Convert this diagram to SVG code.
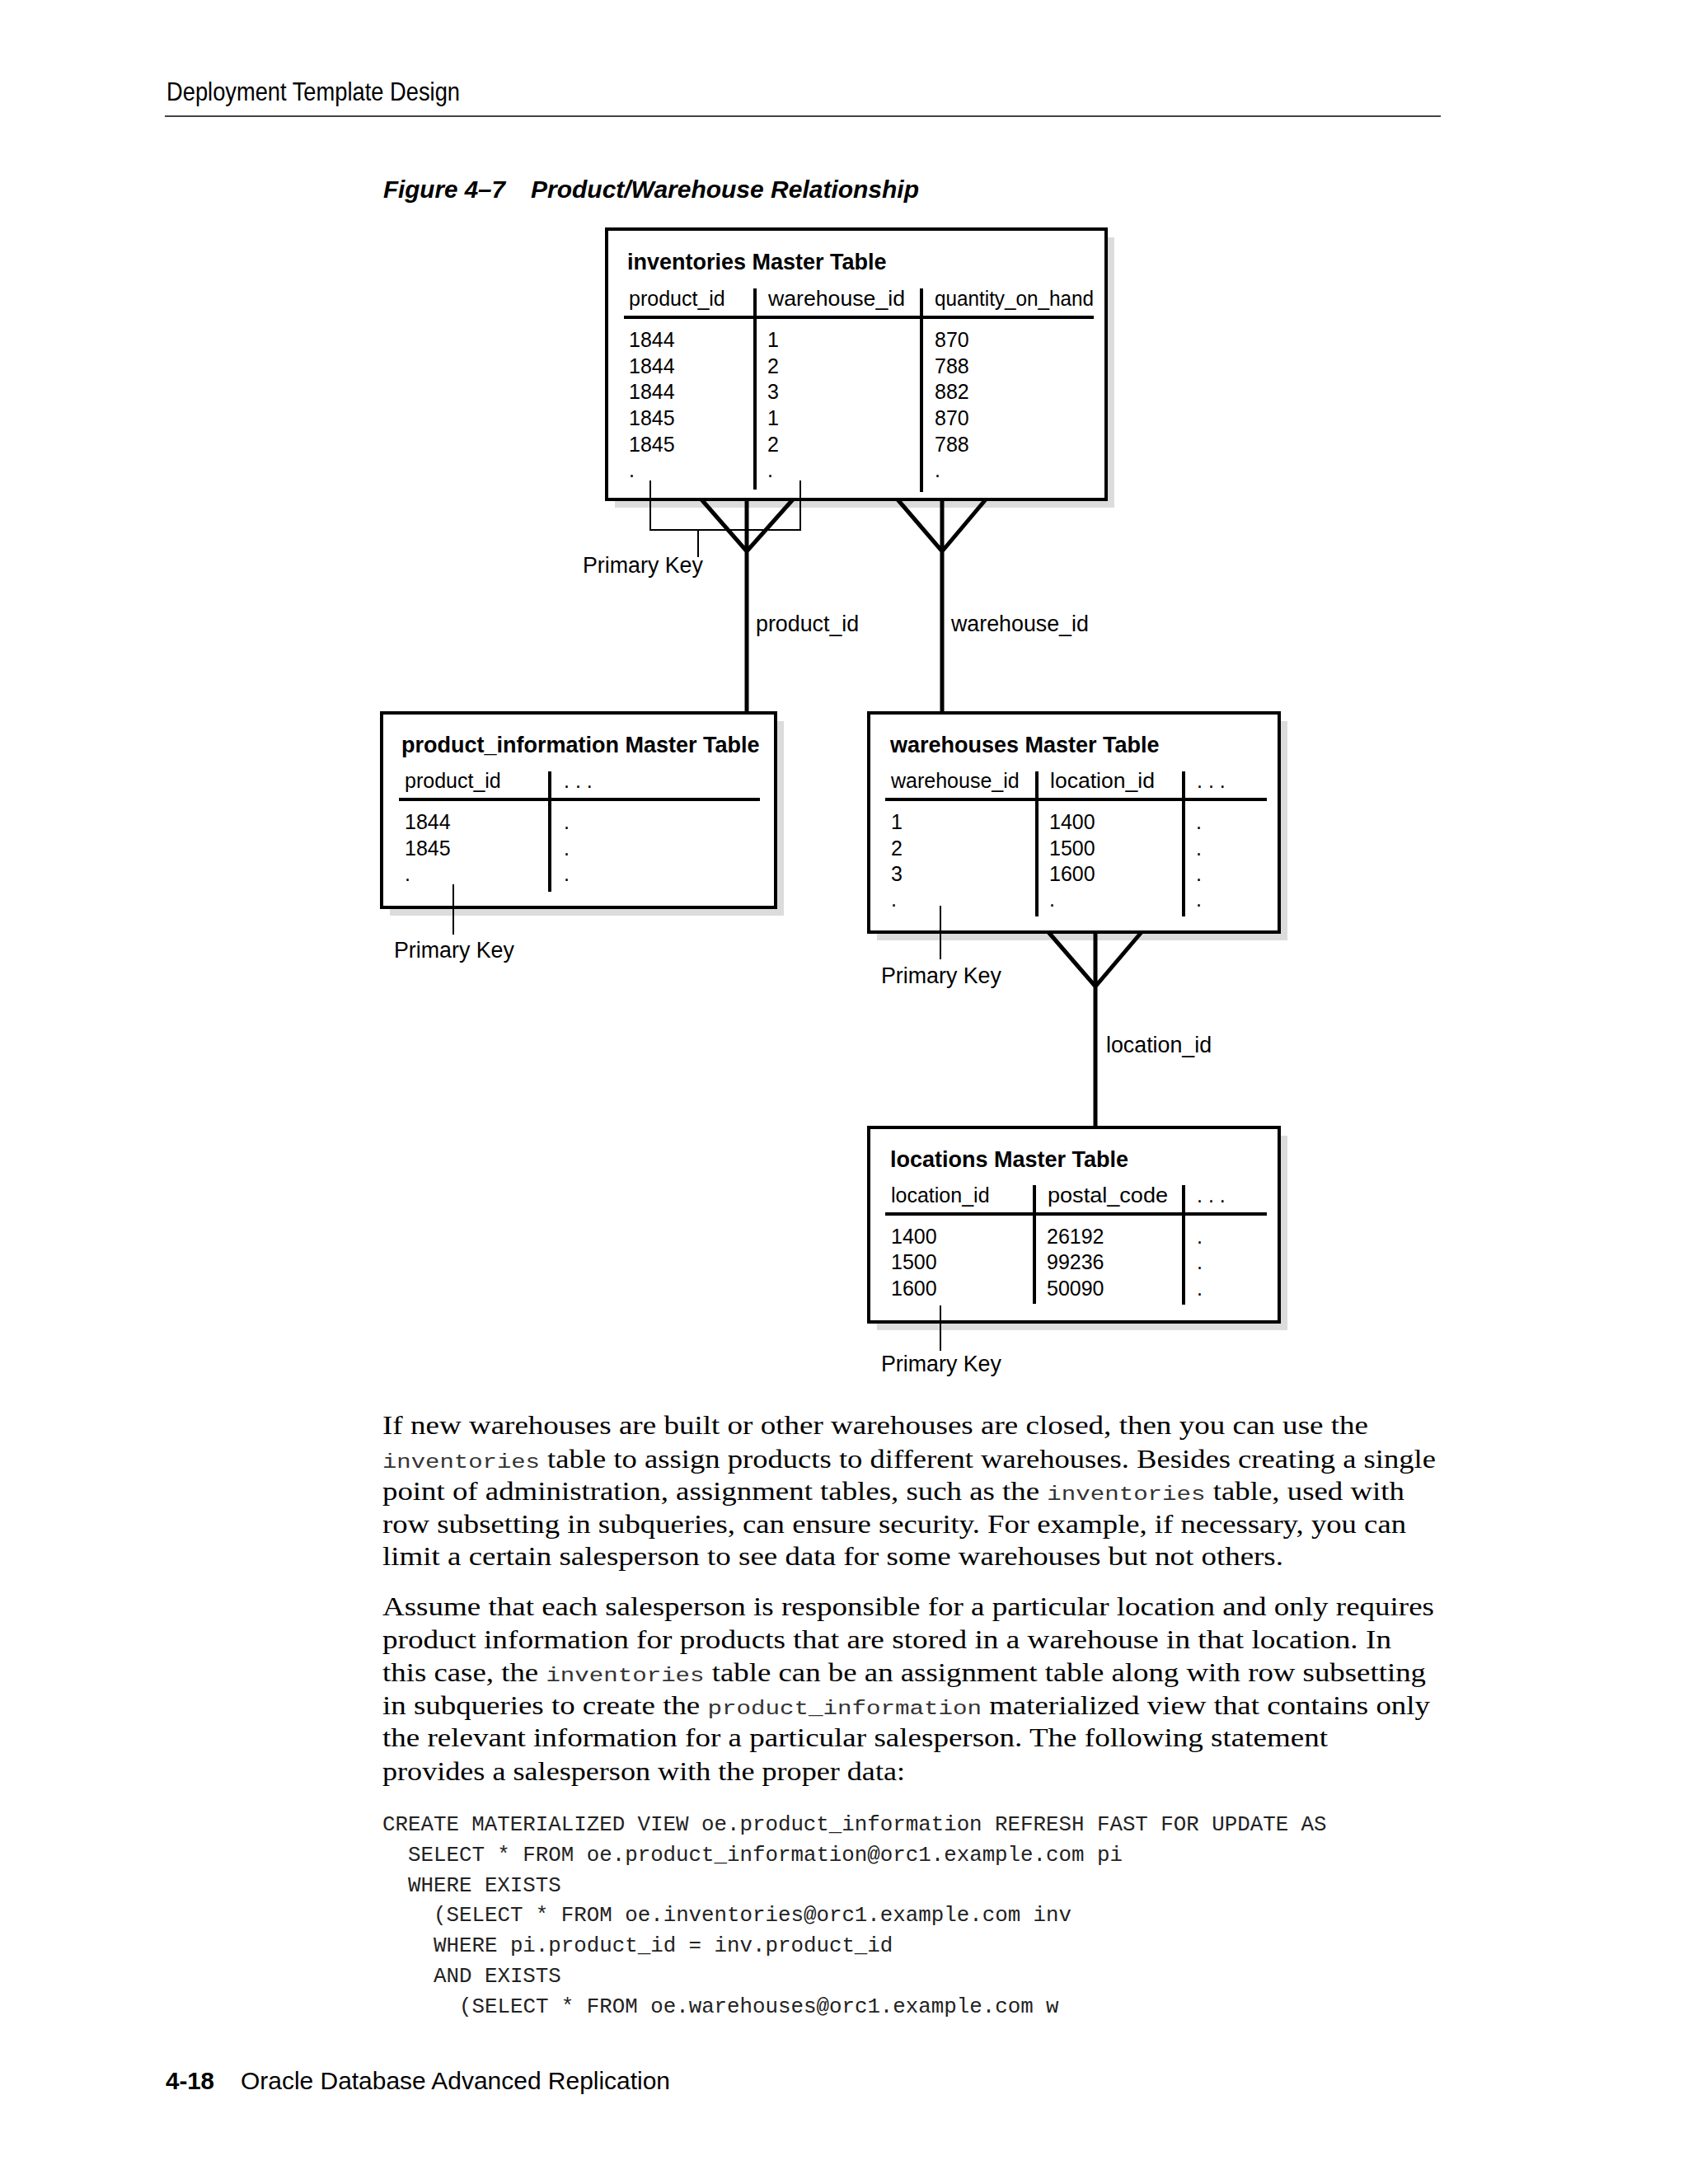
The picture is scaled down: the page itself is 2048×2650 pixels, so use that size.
<svg xmlns="http://www.w3.org/2000/svg" width="2048" height="2650" viewBox="0 0 2048 2650">
<style>
.bg{fill:#ffffff}
.box{fill:#ffffff;stroke:#000;stroke-width:4}
.shadow{fill:#dcdcdc}
.rule{stroke:#000;stroke-width:4;fill:none}
.thin{stroke:#000;stroke-width:2;fill:none}
.conn{stroke:#000;stroke-width:5;fill:none;stroke-linejoin:miter}
.title{font-family:"Liberation Sans",Arial,sans-serif;font-weight:bold;font-size:27px;fill:#000}
.cell{font-family:"Liberation Sans",Arial,sans-serif;font-size:25px;fill:#000}
.lbl{font-family:"Liberation Sans",Arial,sans-serif;font-size:26.8px;fill:#000}
.hdr{font-family:"Liberation Sans",Arial,sans-serif;font-size:32px;fill:#000}
.cap{font-family:"Liberation Sans",Arial,sans-serif;font-size:29px;font-weight:bold;font-style:italic;fill:#000}
.body{font-family:"Liberation Serif","Times New Roman",serif;font-size:31px;fill:#000}
.mono{font-family:"Liberation Mono","Courier New",monospace;font-size:24.5px;fill:#333}
.code{font-family:"Liberation Mono","Courier New",monospace;font-size:25.8px;fill:#222}
.foot{font-family:"Liberation Sans",Arial,sans-serif;font-size:30px;fill:#000}
</style>
<rect class="bg" x="0" y="0" width="2048" height="2650"/>

<g id="page-header">
<text class="hdr" x="202" y="122" textLength="356" lengthAdjust="spacingAndGlyphs">Deployment Template Design</text>
<line x1="200" y1="141" x2="1748" y2="141" stroke="#444" stroke-width="2"/>
</g>

<g id="caption">
<text class="cap" x="465" y="240" textLength="148" lengthAdjust="spacingAndGlyphs">Figure 4–7</text>
<text class="cap" x="644" y="240" textLength="471" lengthAdjust="spacingAndGlyphs">Product/Warehouse Relationship</text>
</g>

<g id="inventories">
<rect class="shadow" x="746" y="288" width="606" height="328"/>
<rect class="box" x="736" y="278" width="606" height="328"/>
<text class="title" x="761" y="327">inventories Master Table</text>
<text class="cell" x="763" y="371">product_id</text>
<text class="cell" x="932" y="371" textLength="166" lengthAdjust="spacingAndGlyphs">warehouse_id</text>
<text class="cell" x="1134" y="371" textLength="193" lengthAdjust="spacingAndGlyphs">quantity_on_hand</text>
<line class="rule" x1="757" y1="385" x2="1327" y2="385"/>
<line class="rule" x1="916" y1="350" x2="916" y2="594"/>
<line class="rule" x1="1118" y1="350" x2="1118" y2="597"/>
<g class="cell">
<text x="763" y="421">1844</text><text x="931" y="421">1</text><text x="1134" y="421">870</text>
<text x="763" y="452.5">1844</text><text x="931" y="452.5">2</text><text x="1134" y="452.5">788</text>
<text x="763" y="484">1844</text><text x="931" y="484">3</text><text x="1134" y="484">882</text>
<text x="763" y="516">1845</text><text x="931" y="516">1</text><text x="1134" y="516">870</text>
<text x="763" y="547.5">1845</text><text x="931" y="547.5">2</text><text x="1134" y="547.5">788</text>
<text x="763" y="579">.</text><text x="931" y="579">.</text><text x="1134" y="579">.</text>
</g>
<path class="thin" d="M789,583 L789,643 L971,643 L971,583 M847,643 L847,676"/>
<text class="lbl" x="707" y="695">Primary Key</text>
</g>

<g id="product_information">
<rect class="shadow" x="473" y="875" width="478" height="236"/>
<rect class="box" x="463" y="865" width="478" height="236"/>
<text class="title" x="487" y="913">product_information Master Table</text>
<text class="cell" x="491" y="956">product_id</text>
<text class="cell" x="684" y="956">. . .</text>
<line class="rule" x1="484" y1="970" x2="922" y2="970"/>
<line class="rule" x1="667" y1="936" x2="667" y2="1082"/>
<g class="cell">
<text x="491" y="1006">1844</text><text x="684" y="1006">.</text>
<text x="491" y="1038">1845</text><text x="684" y="1038">.</text>
<text x="491" y="1069">.</text><text x="684" y="1069">.</text>
</g>
<line class="thin" x1="550" y1="1073" x2="550" y2="1134"/>
<text class="lbl" x="478" y="1162">Primary Key</text>
</g>

<g id="warehouses">
<rect class="shadow" x="1064" y="875" width="498" height="266"/>
<rect class="box" x="1054" y="865" width="498" height="266"/>
<text class="title" x="1080" y="913">warehouses Master Table</text>
<text class="cell" x="1081" y="956">warehouse_id</text>
<text class="cell" x="1274" y="956" textLength="127" lengthAdjust="spacingAndGlyphs">location_id</text>
<text class="cell" x="1452" y="956">. . .</text>
<line class="rule" x1="1074" y1="970" x2="1537" y2="970"/>
<line class="rule" x1="1258" y1="936" x2="1258" y2="1112"/>
<line class="rule" x1="1436" y1="936" x2="1436" y2="1112"/>
<g class="cell">
<text x="1081" y="1006">1</text><text x="1273" y="1006">1400</text><text x="1451" y="1006">.</text>
<text x="1081" y="1038">2</text><text x="1273" y="1038">1500</text><text x="1451" y="1038">.</text>
<text x="1081" y="1069">3</text><text x="1273" y="1069">1600</text><text x="1451" y="1069">.</text>
<text x="1081" y="1100">.</text><text x="1273" y="1100">.</text><text x="1451" y="1100">.</text>
</g>
<line class="thin" x1="1141" y1="1099" x2="1141" y2="1164"/>
<text class="lbl" x="1069" y="1193">Primary Key</text>
</g>

<g id="locations">
<rect class="shadow" x="1064" y="1378" width="498" height="236"/>
<rect class="box" x="1054" y="1368" width="498" height="236"/>
<text class="title" x="1080" y="1416">locations Master Table</text>
<text class="cell" x="1081" y="1459">location_id</text>
<text class="cell" x="1271" y="1459" textLength="146" lengthAdjust="spacingAndGlyphs">postal_code</text>
<text class="cell" x="1452" y="1459">. . .</text>
<line class="rule" x1="1074" y1="1473" x2="1537" y2="1473"/>
<line class="rule" x1="1255" y1="1438" x2="1255" y2="1582"/>
<line class="rule" x1="1436" y1="1438" x2="1436" y2="1583"/>
<g class="cell">
<text x="1081" y="1509">1400</text><text x="1270" y="1509">26192</text><text x="1452" y="1509">.</text>
<text x="1081" y="1540">1500</text><text x="1270" y="1540">99236</text><text x="1452" y="1540">.</text>
<text x="1081" y="1572">1600</text><text x="1270" y="1572">50090</text><text x="1452" y="1572">.</text>
</g>
<line class="thin" x1="1141" y1="1584" x2="1141" y2="1639"/>
<text class="lbl" x="1069" y="1664">Primary Key</text>
</g>

<g id="connectors">
<path class="conn" d="M851,606 L906,669 L962,606 M906,606 L906,866"/>
<path class="conn" d="M1089,606 L1143,669 L1196,606 M1143,606 L1143,866"/>
<path class="conn" d="M1272,1131 L1329,1197 L1385,1131 M1329,1131 L1329,1369"/>
<text class="lbl" x="917" y="766">product_id</text>
<text class="lbl" x="1154" y="766">warehouse_id</text>
<text class="lbl" x="1342" y="1277">location_id</text>
</g>

<g id="body-text">
<text class="body" x="464" y="1740" textLength="1196" lengthAdjust="spacingAndGlyphs">If new warehouses are built or other warehouses are closed, then you can use the</text>
<text class="body" x="464" y="1781" textLength="1278" lengthAdjust="spacingAndGlyphs"><tspan class="mono">inventories</tspan> table to assign products to different warehouses. Besides creating a single</text>
<text class="body" x="464" y="1820" textLength="1240" lengthAdjust="spacingAndGlyphs">point of administration, assignment tables, such as the <tspan class="mono">inventories</tspan> table, used with</text>
<text class="body" x="464" y="1860" textLength="1242" lengthAdjust="spacingAndGlyphs">row subsetting in subqueries, can ensure security. For example, if necessary, you can</text>
<text class="body" x="464" y="1899" textLength="1093" lengthAdjust="spacingAndGlyphs">limit a certain salesperson to see data for some warehouses but not others.</text>

<text class="body" x="464" y="1960" textLength="1276" lengthAdjust="spacingAndGlyphs">Assume that each salesperson is responsible for a particular location and only requires</text>
<text class="body" x="464" y="2000" textLength="1224" lengthAdjust="spacingAndGlyphs">product information for products that are stored in a warehouse in that location. In</text>
<text class="body" x="464" y="2040" textLength="1266" lengthAdjust="spacingAndGlyphs">this case, the <tspan class="mono">inventories</tspan> table can be an assignment table along with row subsetting</text>
<text class="body" x="464" y="2080" textLength="1271" lengthAdjust="spacingAndGlyphs">in subqueries to create the <tspan class="mono">product_information</tspan> materialized view that contains only</text>
<text class="body" x="464" y="2119" textLength="1147" lengthAdjust="spacingAndGlyphs">the relevant information for a particular salesperson. The following statement</text>
<text class="body" x="464" y="2160" textLength="634" lengthAdjust="spacingAndGlyphs">provides a salesperson with the proper data:</text>
</g>

<g id="code" class="code">
<text x="464" y="2221">CREATE MATERIALIZED VIEW oe.product_information REFRESH FAST FOR UPDATE AS</text>
<text x="495" y="2258">SELECT * FROM oe.product_information@orc1.example.com pi</text>
<text x="495" y="2295">WHERE EXISTS</text>
<text x="526" y="2331">(SELECT * FROM oe.inventories@orc1.example.com inv</text>
<text x="526" y="2368">WHERE pi.product_id = inv.product_id</text>
<text x="526" y="2405">AND EXISTS</text>
<text x="557" y="2442">(SELECT * FROM oe.warehouses@orc1.example.com w</text>
</g>

<g id="page-footer">
<text class="foot" x="201" y="2535" font-weight="bold" textLength="59" lengthAdjust="spacingAndGlyphs">4-18</text>
<text class="foot" x="292" y="2535" textLength="521" lengthAdjust="spacingAndGlyphs">Oracle Database Advanced Replication</text>
</g>
</svg>
